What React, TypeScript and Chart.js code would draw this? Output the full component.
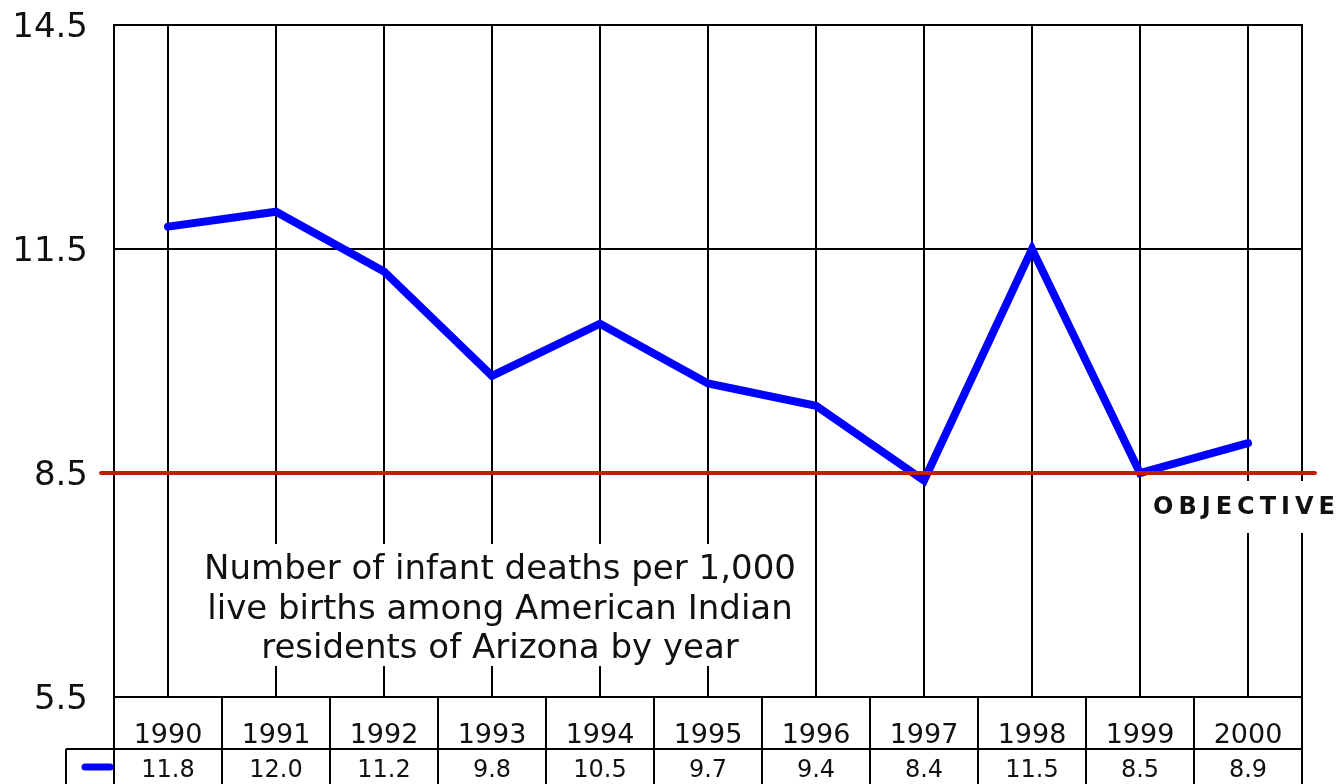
import React, { useEffect, useRef } from 'react';
import { Chart, registerables } from 'chart.js';

Chart.register(...registerables);

const years = ['1990', '1991', '1992', '1993', '1994', '1995', '1996', '1997', '1998', '1999', '2000'];
const rates = [11.8, 12.0, 11.2, 9.8, 10.5, 9.7, 9.4, 8.4, 11.5, 8.5, 8.9];
const objective = 8.5;
const yTicks = [5.5, 8.5, 11.5, 14.5];
const yMin = 5.5;
const yMax = 14.5;
const noteLines = [
  'Number of infant deaths per 1,000',
  'live births among American Indian',
  'residents of Arizona by year',
];
const objectiveLabel = 'OBJECTIVE';

const FONT = '"DejaVu Sans", Verdana, sans-serif';
const TEXT = '#111111';
const LINE_BLUE = '#0000ff';
const OBJ_RED = '#c21d00';

const overlayPlugin = {
  id: 'overlay',
  beforeDatasetsDraw(chart: any) {
    const { ctx, chartArea: ca } = chart;
    ctx.save();
    // right border of the plot
    ctx.strokeStyle = '#000';
    ctx.lineWidth = 2;
    ctx.beginPath();
    ctx.moveTo(ca.right, ca.top - 1);
    ctx.lineTo(ca.right, ca.bottom);
    ctx.stroke();

    // note box
    const cx = ca.left + 386;
    const boxTop = ca.top + 519;
    const boxBottom = ca.top + 641;
    ctx.fillStyle = '#fff';
    ctx.fillRect(cx - 308, boxTop, 616, boxBottom - boxTop);
    ctx.fillStyle = TEXT;
    ctx.font = `34px ${FONT}`;
    ctx.textAlign = 'center';
    ctx.textBaseline = 'alphabetic';
    noteLines.forEach((t, i) => {
      ctx.fillText(t, cx, ca.top + 554 + i * 39.5);
    });
    ctx.restore();
  },
  afterDatasetsDraw(chart: any) {
    const { ctx, chartArea: ca, scales } = chart;
    const xs = scales.x;
    const ys = scales.y;
    ctx.save();
    // objective line
    const oy = ys.getPixelForValue(objective);
    ctx.strokeStyle = OBJ_RED;
    ctx.lineWidth = 4;
    ctx.lineCap = 'round';
    ctx.beginPath();
    ctx.moveTo(ca.left - 13, oy);
    ctx.lineTo(ca.right + 13, oy);
    ctx.stroke();

    // objective label
    const spacing = 5;
    const lx = xs.getPixelForValue(years.length - 1) - 4 + spacing / 2;
    const ly = oy + 34;
    ctx.font = `bold 24px ${FONT}`;
    (ctx as any).letterSpacing = `${spacing}px`;
    ctx.textAlign = 'center';
    ctx.textBaseline = 'middle';
    const w = ctx.measureText(objectiveLabel).width;
    ctx.fillStyle = '#fff';
    ctx.fillRect(lx - w / 2 - 8, ly - 26, w + 12, 52);
    ctx.fillStyle = TEXT;
    ctx.fillText(objectiveLabel, lx, ly + 1);
    (ctx as any).letterSpacing = '0px';

    // data table
    const colW = xs.getPixelForValue(1) - xs.getPixelForValue(0);
    const top = ca.bottom;
    const mid = top + 52;
    const bottom = chart.height + 2;
    const legendLeft = ca.left - 48;
    ctx.strokeStyle = '#000';
    ctx.lineWidth = 2;
    ctx.lineCap = 'butt';
    ctx.beginPath();
    ctx.moveTo(legendLeft, mid);
    ctx.lineTo(ca.right + 1, mid);
    ctx.moveTo(legendLeft, mid);
    ctx.lineTo(legendLeft, bottom);
    for (let i = 0; i <= years.length; i++) {
      const x = xs.getPixelForValue(i) - colW / 2;
      ctx.moveTo(x, top);
      ctx.lineTo(x, bottom);
    }
    ctx.stroke();

    ctx.fillStyle = TEXT;
    ctx.textAlign = 'center';
    ctx.textBaseline = 'alphabetic';
    ctx.font = `27px ${FONT}`;
    years.forEach((y, i) => {
      ctx.fillText(y, xs.getPixelForValue(i), top + 46);
    });
    ctx.font = `24px ${FONT}`;
    rates.forEach((v, i) => {
      ctx.fillText(v.toFixed(1), xs.getPixelForValue(i), mid + 28);
    });

    // legend marker
    ctx.strokeStyle = LINE_BLUE;
    ctx.lineWidth = 7;
    ctx.lineCap = 'round';
    ctx.beginPath();
    ctx.moveTo(legendLeft + 19, mid + 18);
    ctx.lineTo(legendLeft + 44, mid + 18);
    ctx.stroke();
    ctx.restore();
  },
};

export default function App() {
  const ref = useRef<HTMLCanvasElement | null>(null);
  useEffect(() => {
    document.body.style.margin = '0';
    if (!ref.current) return;
    const chart = new Chart(ref.current, {
      type: 'line',
      data: {
        labels: years,
        datasets: [
          {
            data: rates,
            borderColor: LINE_BLUE,
            backgroundColor: LINE_BLUE,
            borderWidth: 8,
            pointRadius: 0,
            tension: 0,
            borderCapStyle: 'round',
            borderJoinStyle: 'miter',
            fill: false,
          },
        ],
      },
      options: {
        responsive: false,
        animation: false,
        layout: { padding: { left: 0, top: 25, right: 36, bottom: 0 } },
        plugins: { legend: { display: false }, title: { display: false }, tooltip: { enabled: false } },
        scales: {
          x: {
            type: 'category',
            offset: true,
            grid: { display: true, offset: false, color: '#000', lineWidth: 2, drawTicks: false },
            border: { display: true, color: '#000', width: 2 },
            ticks: { display: false },
            afterFit: (s: any) => {
              s.height = 87;
              s.paddingLeft = 0;
              s.paddingRight = 0;
            },
          },
          y: {
            min: yMin,
            max: yMax,
            afterBuildTicks: (s: any) => {
              s.ticks = yTicks.map((v) => ({ value: v }));
            },
            grid: { color: '#000', lineWidth: 2, drawTicks: false },
            border: { display: true, color: '#000', width: 2 },
            ticks: {
              padding: 26,
              labelOffset: 3,
              color: TEXT,
              font: { family: FONT, size: 34, lineHeight: 1 },
              callback: (v: any) => Number(v).toFixed(1),
            },
            afterFit: (s: any) => {
              s.width = 114;
              s.paddingTop = 0;
              s.paddingBottom = 0;
            },
          },
        },
      },
      plugins: [overlayPlugin],
    } as any);
    return () => chart.destroy();
  }, []);
  return <canvas ref={ref} width={1338} height={784} style={{ display: 'block', width: 1338, height: 784 }} />;
}
